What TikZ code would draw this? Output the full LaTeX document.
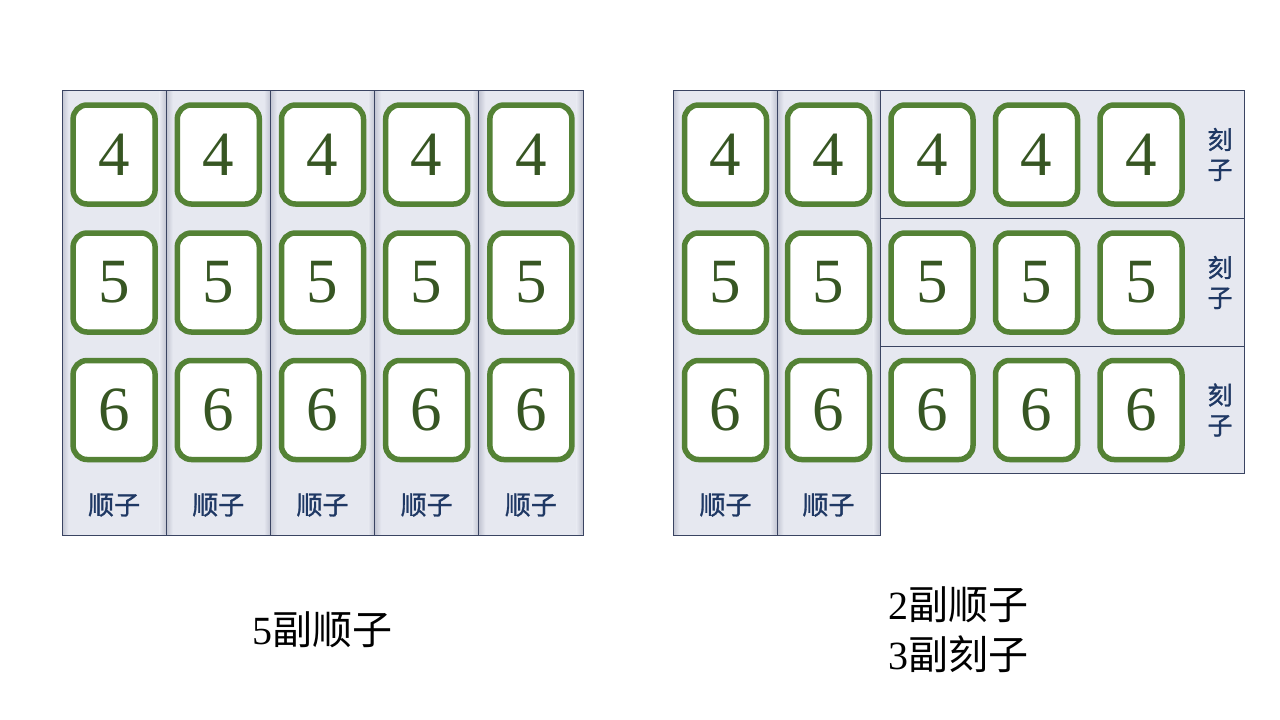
\documentclass[tikz,border=0pt]{standalone}
\usepackage{fontspec}
\setmainfont{Liberation Serif}
\newfontfamily\cjk{Noto Sans CJK SC}
\newfontfamily\cjkm[FakeBold=1.2]{Noto Sans CJK SC}
\usetikzlibrary{shadows}
\definecolor{colfill}{RGB}{230,232,240}
\definecolor{coledge}{RGB}{196,199,212}
\definecolor{colline}{RGB}{58,68,98}
\definecolor{tilegreen}{RGB}{84,130,53}
\definecolor{digitgreen}{RGB}{55,86,35}
\definecolor{navy}{RGB}{31,56,100}
\begin{document}
\begin{tikzpicture}[x=1pt,y=-1pt,
  colbox/.style={draw=colline,line width=1pt,fill=colfill,inner sep=0pt},
  tile/.style={draw=tilegreen,line width=5.5pt,fill=white,rounded corners=14pt,
    minimum width=82pt,minimum height=99pt,inner sep=0pt,
    text=digitgreen,font=\fontsize{63}{63}\selectfont,
    drop shadow={shadow xshift=1pt,shadow yshift=-2.5pt,opacity=0.35,fill=black!60}},
  lbl/.style={text=navy,font=\cjkm\fontsize{26}{28}\selectfont,inner sep=0pt},
  vlbl/.style={text=navy,font=\cjkm\fontsize{25}{30}\selectfont,inner sep=0pt,align=center},
  captxt/.style={font=\fontsize{40}{50}\selectfont,inner sep=0pt,align=left}]
\useasboundingbox (0,0) rectangle (1280,720);
% ---------- left group: 5 columns ----------
\foreach \c [evaluate=\c as \xa using {62+104.2*(\c-1)}] in {1,...,5}{
  \path[colbox] (\xa,90) rectangle ++(104.2,445);
  \shade[left color=coledge,right color=colfill] (\xa+0.5,90.5) rectangle ++(6,444);
  \shade[left color=colfill,right color=coledge] (\xa+97.7,90.5) rectangle ++(6,444);
  \draw[colline,line width=1pt] (\xa,90) rectangle ++(104.2,445);
}
\foreach \c [evaluate=\c as \xc using {114.1+104.2*(\c-1)}] in {1,...,5}{
  \node[tile] (L4-\c) at (\xc,154.5) {4};
  \node[tile] (L5-\c) at (\xc,282.5) {5};
  \node[tile] (L6-\c) at (\xc,410) {6};
  \node[lbl] (Ls-\c) at (\xc,505) {顺子};
}
% ---------- right group ----------
\foreach \xa/\xb in {673/777,777/880}{
  \path[colbox] (\xa,90) rectangle (\xb,535);
  \shade[left color=coledge,right color=colfill] (\xa+0.5,90.5) rectangle (\xa+6.5,534.5);
  \shade[left color=colfill,right color=coledge] (\xb-6.5,90.5) rectangle (\xb-0.5,534.5);
  \draw[colline,line width=1pt] (\xa,90) rectangle (\xb,535);
}
\path[colbox] (880,90) rectangle (1244,218);
\path[colbox] (880,218) rectangle (1244,346);
\path[colbox] (880,346) rectangle (1244,473);
\foreach \c/\xc in {1/725.5,2/828.5}{
  \node[tile] (R4-\c) at (\xc,154.5) {4};
  \node[tile] (R5-\c) at (\xc,282.5) {5};
  \node[tile] (R6-\c) at (\xc,410) {6};
  \node[lbl] (Rs-\c) at (\xc,505) {顺子};
}
\foreach \c/\xc in {3/932,4/1036.5,5/1141}{
  \node[tile] (R4-\c) at (\xc,154.5) {4};
  \node[tile] (R5-\c) at (\xc,282.5) {5};
  \node[tile] (R6-\c) at (\xc,410) {6};
}
\node[vlbl] (K4) at (1220,154.5) {刻\\子};
\node[vlbl] (K5) at (1220,282.5) {刻\\子};
\node[vlbl] (K6) at (1220,410) {刻\\子};
% ---------- captions ----------
\node[captxt] (capL) at (322,630) {5{\cjk 副顺子}};
\node[captxt] (capR) at (958,630) {2{\cjk 副顺子}\\3{\cjk 副刻子}};
\end{tikzpicture}
\end{document}
